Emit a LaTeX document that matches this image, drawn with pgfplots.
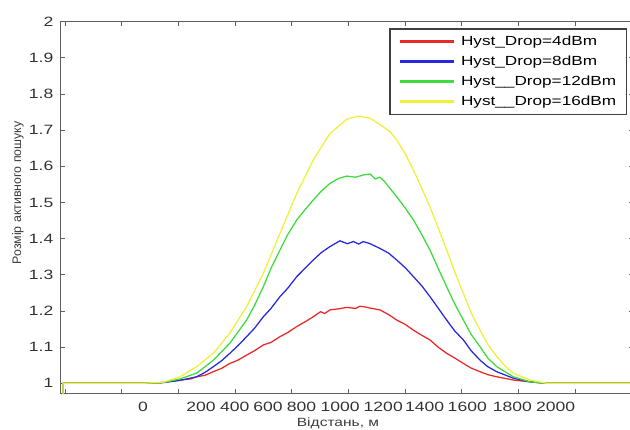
\documentclass[border=0pt]{standalone}
\usepackage{fontspec}
\setmainfont{Liberation Sans}
\newfontfamily\widefont[FakeStretch=1.3]{Liberation Sans}
\usepackage{pgfplots}
\pgfplotsset{compat=1.18}
\definecolor{cred}{RGB}{235,40,40}
\definecolor{cblue}{RGB}{40,40,220}
\definecolor{cgreen}{RGB}{60,220,60}
\definecolor{cyellow}{RGB}{240,240,60}
\definecolor{axgray}{RGB}{95,95,95}
\definecolor{txtgray}{RGB}{60,60,60}

\begin{document}
\begin{tikzpicture}
\begin{axis}[
    at={(0,0)}, anchor=south west,
    scale only axis,
    width=14.345cm, height=9.3075cm,
    xmin=-400, xmax=2380, ymin=0.9704, ymax=2,
    axis line style={axgray, line width=0.7pt},
    tick style={axgray, line width=0.6pt},
    major tick length=0.12cm,
    tick align=inside,
    xtick={-377.9,-103.2,171.5,446.2,720.9,995.6,1270.3,1545.0,1819.7,2094.4,2369.1},
    xticklabels={},
    extra x ticks={0,281,444,606,768,955,1164,1364,1571,1790,1999},
    extra x tick labels={0,200,400,600,800,1000,1200,1400,1600,1800,2000},
    extra x tick style={major tick length=0pt},
    ytick={1,1.1,1.2,1.3,1.4,1.5,1.6,1.7,1.8,1.9,2},
    /pgf/number format/assume math mode=true,
    tick label style={font=\widefont\fontsize{9.6}{10}\selectfont, text=black!80},
    xticklabel style={inner sep=0pt, anchor=base, yshift=-0.45cm},
    yticklabel style={inner sep=0pt, anchor=east, xshift=-0.17cm},
    xlabel={Відстань, м},
    xlabel style={at={(axis description cs:0.4837,0)}, anchor=center,
                  yshift=-0.725cm, font=\widefont\fontsize{8.5}{10}\selectfont, text=txtgray},
    ylabel={Розмір активного пошуку},
    ylabel style={at={(axis description cs:-0.0739,0.54)}, anchor=center,
                  font=\fontsize{8.8}{10}\selectfont, text=txtgray},
    legend style={at={(axis description cs:0.987,0.982)}, anchor=north east,
                  draw=black!75, line width=0.8pt,
                  font=\widefont\fontsize{9.4}{11}\selectfont,
                  inner xsep=0.25cm, inner ysep=0.17cm, row sep=0.21cm,
                  column sep=0.17cm,
                  nodes={inner sep=0pt, anchor=west}},
    legend cell align=left,
  ]
  % Hyst_Drop = 4 dBm
  \addplot[draw=cred, line width=0.9pt,
    legend image code/.code={\fill[cred] (0cm,-0.55pt) rectangle (1.325cm,0.55pt);}]
    coordinates {
    (-388,0.971) (-387,1) (0,1) (97,1.002) (179,1.009) (230,1.012) (260,1.018)
    (300,1.022) (340,1.032) (380,1.041) (421,1.055) (460,1.064) (502,1.078)
    (540,1.090) (583,1.106) (620,1.113) (664,1.129) (700,1.140) (745,1.157)
    (785,1.170) (825,1.184) (860,1.198) (880,1.193) (906,1.203) (950,1.206)
    (987,1.210) (1030,1.207) (1050,1.213) (1067,1.212) (1100,1.208) (1148,1.203)
    (1190,1.190) (1229,1.175) (1270,1.163) (1310,1.147) (1350,1.133) (1390,1.120)
    (1430,1.100) (1471,1.083) (1510,1.070) (1552,1.055) (1590,1.042) (1633,1.032)
    (1670,1.024) (1714,1.018) (1794,1.009) (1875,1.004) (1956,1.0) (2380,1)
  };
  \addlegendentry{Hyst\_Drop=4dBm}
  % Hyst_Drop = 8 dBm
  \addplot[draw=cblue, line width=0.9pt,
    legend image code/.code={\fill[cblue] (0cm,-0.55pt) rectangle (1.325cm,0.55pt);}]
    coordinates {
    (-388,0.971) (-387,1) (0,1) (97,1.002) (179,1.008) (260,1.018) (300,1.030)
    (341,1.046) (380,1.062) (421,1.083) (460,1.104) (502,1.129) (540,1.152)
    (583,1.184) (620,1.207) (664,1.240) (700,1.262) (745,1.295) (785,1.318)
    (825,1.341) (865,1.362) (906,1.378) (954,1.394) (990,1.386) (1020,1.392)
    (1045,1.385) (1067,1.392) (1100,1.386) (1148,1.373) (1190,1.360) (1229,1.341)
    (1270,1.320) (1310,1.295) (1350,1.270) (1390,1.240) (1430,1.208) (1471,1.175)
    (1510,1.145) (1552,1.120) (1590,1.090) (1633,1.064) (1670,1.046) (1714,1.032)
    (1794,1.014) (1875,1.004) (1956,1.0) (2380,1)
  };
  \addlegendentry{Hyst\_Drop=8dBm}
  % Hyst_Drop = 12 dBm
  \addplot[draw=cgreen, line width=0.9pt,
    legend image code/.code={\fill[cgreen] (0cm,-0.55pt) rectangle (1.325cm,0.55pt);}]
    coordinates {
    (-388,0.971) (-387,1) (0,1) (97,1.002) (179,1.012) (260,1.028) (341,1.064)
    (421,1.111) (502,1.175) (540,1.215) (583,1.267) (620,1.318) (664,1.369)
    (700,1.410) (745,1.452) (785,1.480) (825,1.507) (865,1.532) (906,1.553)
    (950,1.567) (987,1.573) (1030,1.570) (1067,1.576) (1100,1.579) (1125,1.565)
    (1148,1.570) (1170,1.558) (1229,1.516) (1270,1.485) (1310,1.452) (1350,1.412)
    (1390,1.369) (1430,1.318) (1471,1.267) (1510,1.220) (1552,1.175) (1590,1.135)
    (1633,1.101) (1670,1.070) (1714,1.046) (1794,1.018) (1875,1.004) (1956,1.0)
    (2380,1)
  };
  \addlegendentry{Hyst\_\_Drop=12dBm}
  % Hyst_Drop = 16 dBm
  \addplot[draw=cyellow, line width=0.9pt,
    legend image code/.code={\fill[cyellow] (0cm,-0.55pt) rectangle (1.325cm,0.55pt);}]
    coordinates {
    (-388,0.971) (-387,1) (0,1) (97,1.003) (179,1.018) (260,1.046) (341,1.083)
    (421,1.139) (502,1.212) (583,1.304) (664,1.415) (745,1.525) (825,1.618)
    (906,1.691) (987,1.730) (1043,1.739) (1100,1.733) (1150,1.715) (1197,1.696)
    (1229,1.673) (1270,1.635) (1310,1.590) (1350,1.540) (1390,1.488) (1430,1.430)
    (1471,1.369) (1510,1.308) (1552,1.249) (1590,1.195) (1633,1.147) (1670,1.108)
    (1714,1.074) (1754,1.048) (1794,1.028) (1875,1.009) (1956,1.0) (2380,1)
  };
  \addlegendentry{Hyst\_\_Drop=16dBm}
\end{axis}
\pgfresetboundingbox
\path[use as bounding box] (-1.511cm,-0.9cm) rectangle (14.239cm,9.85cm);
\end{tikzpicture}
\end{document}
